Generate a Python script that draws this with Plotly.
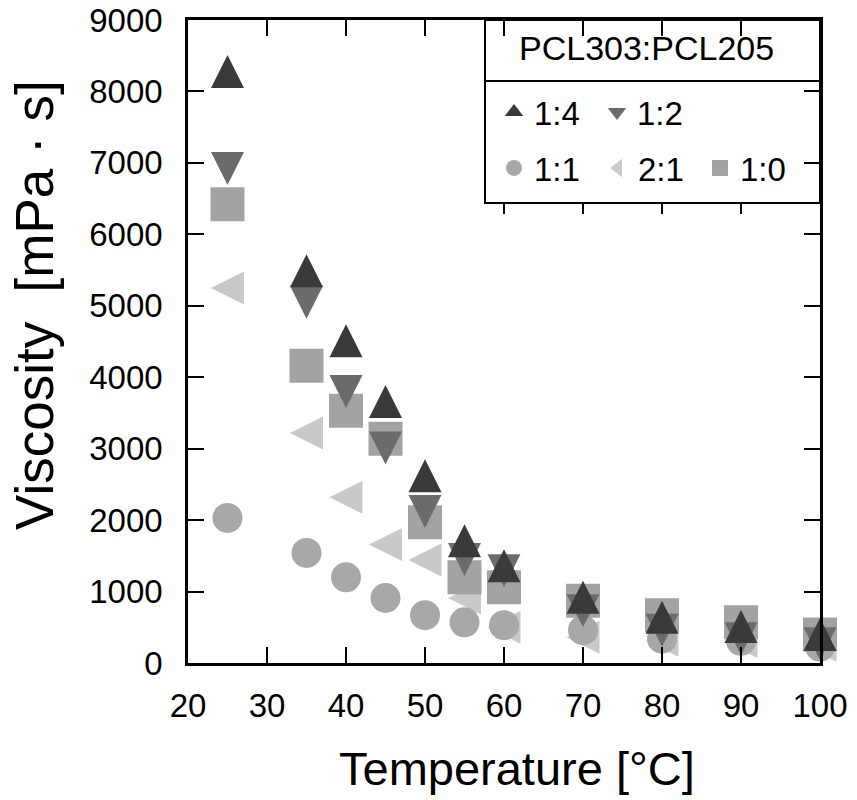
import plotly.graph_objects as go

# temperature [C] and viscosity [mPa s]
temperature = [25, 35, 40, 45, 50, 55, 60, 70, 80, 90, 100]
visc_1_4 = [8280, 5490, 4510, 3660, 2620, 1710, 1360, 920, 640, 510, 400]
visc_1_2 = [6920, 5050, 3800, 3010, 2120, 1450, 1290, 730, 460, 340, 270]
visc_1_1 = [2030, 1540, 1200, 910, 670, 570, 530, 460, 340, 310, 230]
visc_2_1 = [5250, 3220, 2320, 1660, 1440, 910, 500, 360, 320, 300, 250]
visc_1_0 = [6420, 4160, 3530, 3140, 1970, 1200, 1060, 870, 670, 570, 400]

x_ticks = [20, 30, 40, 50, 60, 70, 80, 90, 100]
y_ticks = [0, 1000, 2000, 3000, 4000, 5000, 6000, 7000, 8000, 9000]

FONT = "Liberation Sans, Arial, sans-serif"

W, H = 857, 800
ML, MR, MT, MB = 188, 37, 20, 137
pw, ph = W - ML - MR, H - MT - MB


def px(x):
    return (x - ML) / pw


def py(y):
    return (H - MB - y) / ph


# (name, values, symbol, angle, size, colour, legend symbol, legend, legend pos)
# arrow symbols + standoff of half the size give centred, equal-sided triangles
series = [
    ("2:1", visc_2_1, "arrow-down", 90, 33, "#c9c9c9", "triangle-left", "legend4", (598, 168)),
    ("1:1", visc_1_1, "circle", 0, 30, "#a8a8a8", "circle", "legend3", (494, 168)),
    ("1:0", visc_1_0, "square", 0, 34, "#a3a3a3", "square", "legend5", (700, 168)),
    ("1:2", visc_1_2, "arrow-down", 0, 33, "#6b6b6b", "triangle-down", "legend2", (597, 112)),
    ("1:4", visc_1_4, "arrow-down", 180, 33, "#3a3a3a", "triangle-up", "legend", (494, 112)),
]

fig = go.Figure()
legends = {}
for name, vals, sym, ang, sz, col, lsym, leg, pos in series:
    so = sz / 2 if sym.startswith("arrow") else 0
    fig.add_trace(go.Scatter(
        x=temperature, y=vals, mode="markers", name=name, showlegend=False,
        marker=dict(symbol=sym, angle=ang, standoff=so, size=sz, color=col,
                    line=dict(width=0)),
        cliponaxis=False,
    ))
    # legend entry only (legend ignores standoff and caps symbols at 16 px)
    fig.add_trace(go.Scatter(
        x=[None], y=[None], mode="markers", name=name, legend=leg,
        marker=dict(symbol=lsym, size=16, color=col, line=dict(width=0)),
    ))
    legends[leg] = dict(
        x=px(pos[0]), y=py(pos[1]), xanchor="left", yanchor="middle",
        bgcolor="rgba(0,0,0,0)", font=dict(family=FONT, size=33, color="black"),
    )

axis_style = dict(
    showline=True, linecolor="black", linewidth=2.5, mirror="ticks",
    ticks="inside", ticklen=16, tickwidth=2, tickcolor="black",
    showgrid=False, zeroline=False, ticklabeloverflow="allow",
    tickfont=dict(family=FONT, size=33, color="black"),
)

# stray top-axis ticks that show under the legend frame
frame_ticks = [dict(type="line", xref="x", yref="paper", x0=t, x1=t, y0=py(203), y1=py(214),
                    line=dict(color="black", width=2))
               for t in x_ticks if 55 < t < 100]

fig.update_layout(
    width=W, height=H,
    margin=dict(l=ML, r=MR, t=MT, b=MB, autoexpand=False),
    plot_bgcolor="white", paper_bgcolor="white",
    xaxis=dict(range=[20, 100], tickvals=x_ticks, ticklabelstandoff=12, **axis_style),
    yaxis=dict(range=[0, 9000], tickvals=y_ticks, ticklabelstandoff=16, **axis_style),
    shapes=[
        dict(type="rect", xref="paper", yref="paper", x0=px(485), x1=1, y0=py(203), y1=1,
             line=dict(color="black", width=2), fillcolor="white", layer="below"),
        dict(type="line", xref="paper", yref="paper", x0=px(485), x1=1, y0=py(81), y1=py(81),
             line=dict(color="black", width=2)),
    ] + frame_ticks,
    annotations=[
        dict(text="PCL303:PCL205", xref="paper", yref="paper", x=px(646), y=py(48),
             xanchor="center", yanchor="middle", showarrow=False,
             font=dict(family=FONT, size=34, color="black")),
        dict(text="Temperature [°C]", xref="paper", yref="paper", x=px(517), y=py(768),
             xanchor="center", yanchor="middle", showarrow=False,
             font=dict(family=FONT, size=47, color="black")),
        dict(text="Viscosity  [mPa · s]", xref="paper", yref="paper", x=px(34), y=py(305),
             xanchor="center", yanchor="middle", textangle=-90, showarrow=False,
             font=dict(family=FONT, size=53, color="black")),
    ],
    **legends,
)

# drop the browser's default 8px body margin so the figure fills the window
fig.write_html("out.html", config={"displayModeBar": False},
               post_script="document.body.style.margin = '0';")
